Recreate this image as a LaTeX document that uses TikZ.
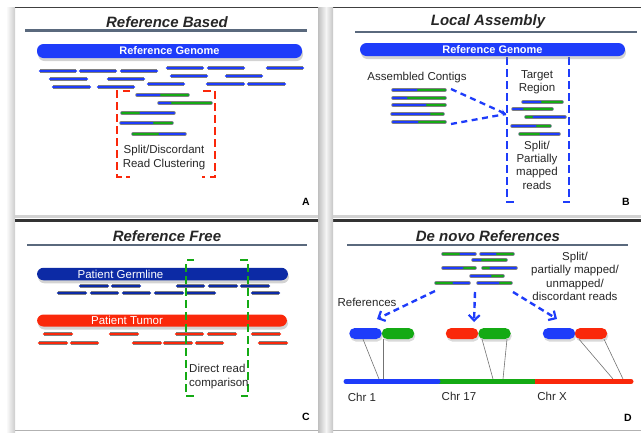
\documentclass[tikz,border=0pt]{standalone}
\usepackage{fontspec}
\setmainfont{Liberation Sans}
\usetikzlibrary{shadows,arrows.meta,calc}
\definecolor{rblue}{RGB}{30,60,250}
\definecolor{rgreen}{RGB}{20,170,20}
\definecolor{rred}{RGB}{250,40,10}
\definecolor{dblue}{RGB}{12,42,165}
\definecolor{rulegray}{RGB}{90,105,125}
\newcommand\readBG[4]{%
  \draw[rdout] (#2,#1)--(#4,#1);
  \draw[rdin,rblue] (#2,#1)--(#4,#1);
  \draw[rdin,rgreen] (#3,#1)--(#4,#1);}
\newcommand\readGB[4]{%
  \draw[rdout] (#2,#1)--(#4,#1);
  \draw[rdin,rblue] (#2,#1)--(#4,#1);
  \draw[rdin,rgreen] (#2,#1)--(#3,#1);}
\begin{document}
\begin{tikzpicture}[x=1pt,y=-1pt,
  rdout/.style={draw=black!50,line width=3.5pt,line cap=round},
  rdin/.style={line width=2.6pt,line cap=round},
  read/.style={line width=2.6pt,line cap=round,preaction={draw=black!50,line width=3.5pt}},
  title/.style={font=\fontsize{15}{17}\selectfont\bfseries\itshape,text=black!85,inner sep=0},
  rulel/.style={rulegray,line width=2.6pt},
  bar/.style={rounded corners=6.5pt,minimum height=14pt,inner sep=0,text=white,
     font=\fontsize{11}{12}\selectfont\bfseries,
     drop shadow={opacity=0.35,shadow xshift=1pt,shadow yshift=-3pt}},
  pill/.style={rounded corners=5.5pt,minimum height=11pt,minimum width=32.5pt,inner sep=0,
     drop shadow={opacity=0.3,shadow xshift=1pt,shadow yshift=-2.5pt}},
  lbl/.style={font=\fontsize{11.5}{13.3}\selectfont,text=black!85,inner sep=0,align=center},
  letter/.style={font=\fontsize{10.5}{12}\selectfont\bfseries,inner sep=0},
  dsh/.style={line width=2.4pt,dash pattern=on 7.5pt off 4.5pt},
  arr/.style={rblue,line width=2.4pt,dash pattern=on 6pt off 4pt,
     -{Straight Barb[length=5.5pt,width=11pt,line width=2.2pt]}},
  conn/.style={draw=black!55,line width=0.6pt}]
\useasboundingbox (0,0) rectangle (641,432);
% ---------- frames ----------
\shade[left color=white,right color=gray!40] (6,7) rectangle (15,432);
\draw[black!75,line width=1.6pt] (15,7.5)--(318,7.5);
\draw[black!75,line width=1.6pt] (333,7.5)--(641,7.5);
\draw[gray!35,line width=3pt] (15,216)--(641,216);
\fill[black!80] (15,218.5) rectangle (641,221.5);
\draw[gray!60,line width=1.5pt] (15,430.5)--(641,430.5);
\shade[left color=gray!50,right color=gray!8] (318,7) rectangle (326,432);
\shade[left color=gray!8,right color=gray!45] (326,7) rectangle (333,432);

% ================= Panel A =================
\node[title] (ta) at (167,22) {Reference Based};
\draw[rulel] (25,30.5)--(307,30.5);
\node[bar,fill=rblue,minimum width=265pt] (rga) at (169.5,51) {Reference Genome};
\foreach \y/\a/\b in {71/40/76,71/80/116,71/121/157,68/167/203,68/208/244,68/267/303,
   79/50/87,79/108/144,76/171/207,76/226/262,87/53/90,87/98/134,84/148/184,84/207/244,84/248/285}
   \draw[read,rblue] (\a,\y)--(\b,\y);
\readBG{95}{137}{161}{188}
\readBG{103}{159}{172}{211}
\readGB{113}{122}{139}{174}
\readBG{123}{121}{154}{172}
\readGB{134}{133}{158}{185}
\draw[dsh,rred] (130,91)--(117,91)--(117,177)--(130,177);
\draw[dsh,rred] (203,91)--(215,91)--(215,177)--(202,177);
\node[lbl] (la) at (164,157.5) {Split/Discordant\\Read Clustering};
\node[letter] (A) at (306,202) {A};

% ================= Panel B =================
\node[title] (tb) at (488,22) {Local Assembly};
\draw[rulel] (355,32)--(637,32);
\draw[dsh,rblue] (507,57)--(507,202)--(515,202);
\draw[dsh,rblue] (569,57)--(569,202)--(562,202);
\node[bar,fill=rblue,minimum width=265pt,minimum height=13pt] (rgb) at (492.5,49.5) {Reference Genome};
\node[lbl] (lc) at (417,78) {Assembled Contigs};
\readBG{90}{393}{418}{445}
\readBG{98}{393}{408}{445}
\readBG{105}{393}{427}{445}
\readBG{114}{392}{431}{443}
\readBG{122}{393}{419}{445}
\coordinate (c1) at (451,89);
\coordinate (c2) at (451,124);
\coordinate (conv) at (506,114);
\draw[rblue,line width=2.3pt,dash pattern=on 6pt off 4.5pt,-{Stealth[length=5pt,width=5pt]}] (c1)--(conv);
\draw[rblue,line width=2.3pt,dash pattern=on 6pt off 4.5pt] (c2)--(conv);
\node[lbl] (ltr) at (537,82.5) {Target\\Region};
\readBG{102}{523}{542}{562}
\readBG{109}{513}{524}{552}
\readGB{117}{526}{532}{565}
\readBG{126}{512}{537}{550}
\readGB{134}{520}{539}{559}
\node[lbl] (lsp) at (537,165) {Split/\\Partially\\mapped\\reads};
\node[letter] (B) at (626,202) {B};

% ================= Panel C =================
\node[title] (tc) at (167,236) {Reference Free};
\draw[rulel] (27,245)--(307,245);
\node[bar,fill=dblue,minimum width=251pt,minimum height=12.5pt] (germ) at (162.5,274) {};
\node[lbl,text=white] (germt) at (120.5,274) {Patient Germline};
\foreach \y/\a/\b in {286/80/108,286/112/140,286/177/204,286/209/237,286/241/269,
   293/58/86,293/91/118,293/123/150,293/155/183,293/187/215,293/252/279}
   \draw[read,dblue] (\a,\y)--(\b,\y);
\node[bar,fill=rred,minimum width=250pt,minimum height=12pt] (tum) at (162,320.5) {};
\node[lbl,text=white] (tumt) at (127,320.5) {Patient Tumor};
\foreach \y/\a/\b in {334/44/72,334/110/138,334/176/203,334/208/236,334/252/280,
   343/39/67,343/71/98,343/133/161,343/164/192,343/196/223,343/259/287}
   \draw[read,rred] (\a,\y)--(\b,\y);
\draw[dsh,rgreen] (194,260)--(186,260)--(186,396)--(194,396);
\draw[dsh,rgreen] (240,260)--(248,260)--(248,396)--(240,396);
\node[lbl,align=left,anchor=west] (ldr) at (189,376.5) {Direct read\\comparison};
\node[letter] (C) at (306,417) {C};

% ================= Panel D =================
\node[title] (td) at (488,236) {De novo References};
\draw[rulel] (347,245)--(628,245);
\readGB{254}{443}{459}{475}
\readBG{254}{481}{497}{513}
\readBG{260}{473}{482}{506}
\readBG{268}{443}{464}{475}
\readGB{268}{483}{489}{516}
\readBG{276}{471}{492}{503}
\readGB{283}{436}{452}{469}
\readBG{283}{478}{500}{511}
\node[lbl] (lsd) at (575,276.5) {Split/\\partially mapped/\\unmapped/\\discordant reads};
\node[lbl] (lref) at (367,302) {References};
\coordinate (s1) at (435,291);
\coordinate (s2) at (475,292);
\coordinate (s3) at (513,292);
\coordinate (e1) at (377,319);
\coordinate (e2) at (474,322);
\coordinate (e3) at (557,319);
\draw[arr] (s1)--(e1);
\draw[arr] (s2)--(e2);
\draw[arr] (s3)--(e3);
% pills
\node[pill,fill=rblue] (p1) at (365.5,333.5) {};
\node[pill,fill=rgreen] (p2) at (398,333.5) {};
\node[pill,fill=rred] (p3) at (462,333.5) {};
\node[pill,fill=rgreen] (p4) at (494.5,333.5) {};
\node[pill,fill=rblue] (p5) at (559,333.5) {};
\node[pill,fill=rred] (p6) at (591,333.5) {};
% chromosome
\draw[rred,line width=5pt,line cap=round] (535,381.5)--(631,381.5);
\draw[rgreen,line width=5pt] (438,381.5)--(535,381.5);
\draw[rblue,line width=5pt,line cap=round] (346,381.5)--(438,381.5);
\draw[rblue,line width=5pt] (420,381.5)--(438,381.5);
\coordinate (k1) at (379,379);
\coordinate (k2) at (383,379);
\coordinate (k3) at (493,379);
\coordinate (k4) at (503,379);
\coordinate (k5) at (613,379);
\coordinate (k6) at (623,379);
\draw[conn] ($(p1.south)+(-2.5,0)$)--(k1);
\draw[conn] ($(p2.south)+(-15,0)$)--(k2);
\draw[conn] ($(p4.south)+(-12.5,0)$)--(k3);
\draw[conn] ($(p4.south)+(12.5,0)$)--(k4);
\draw[conn] ($(p6.south)+(-12,0)$)--(k5);
\draw[conn] ($(p6.south)+(13,0)$)--(k6);
\node[lbl] (chr1) at (362,397.5) {Chr 1};
\node[lbl] (chr17) at (459,396) {Chr 17};
\node[lbl] (chrx) at (552,396) {Chr X};
\node[letter] (D) at (628,418) {D};
\end{tikzpicture}
\end{document}
